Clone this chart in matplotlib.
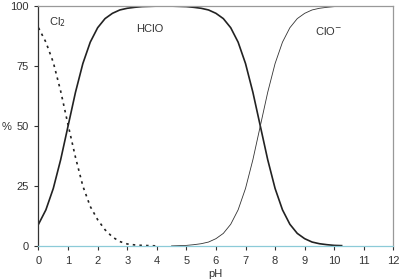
import matplotlib
matplotlib.use('Agg')
import matplotlib.pyplot as plt

plt.rcParams['font.family'] = ['Liberation Sans', 'DejaVu Sans']

# pH grid for HClO (0 .. 10.25 in 0.25 steps)
ph_hclo = [0, 0.25, 0.5, 0.75, 1, 1.25, 1.5, 1.75, 2, 2.25, 2.5, 2.75, 3, 3.25, 3.5, 3.75,
           4, 4.25, 4.5, 4.75, 5, 5.25, 5.5, 5.75, 6, 6.25, 6.5, 6.75, 7, 7.25, 7.5, 7.75,
           8, 8.25, 8.5, 8.75, 9, 9.25, 9.5, 9.75, 10, 10.25]
hclo = [9.1, 15.1, 24.0, 36.0, 50.0, 64.0, 76.0, 84.9, 90.9, 94.7, 96.9, 98.3, 99.0, 99.4, 99.7, 99.8,
        99.9, 99.9, 99.9, 99.8, 99.7, 99.4, 99.0, 98.3, 96.9, 94.7, 90.9, 84.9, 76.0, 64.0, 50.0, 36.0,
        24.0, 15.1, 9.1, 5.3, 3.1, 1.7, 1.0, 0.6, 0.3, 0.2]

ph_cl2 = [0, 0.25, 0.5, 0.75, 1, 1.25, 1.5, 1.75, 2, 2.25, 2.5, 2.75, 3, 3.25, 3.5, 3.75, 4]
cl2 = [90.9, 84.9, 76.5, 64.5, 50.5, 37.0, 25.0, 16.5, 11.0, 6.8, 3.8, 1.9, 0.9, 0.5, 0.3, 0.2, 0.1]

ph_clo = [4.5, 4.75, 5, 5.25, 5.5, 5.75, 6, 6.25, 6.5, 6.75, 7, 7.25, 7.5, 7.75,
          8, 8.25, 8.5, 8.75, 9, 9.25, 9.5, 9.75, 10, 10.25]
clo = [0.1, 0.2, 0.3, 0.6, 1.0, 1.7, 3.1, 5.3, 9.1, 15.1, 24.0, 36.0, 50.0, 64.0,
       76.0, 84.9, 90.9, 94.7, 96.9, 98.3, 99.0, 99.4, 99.7, 99.8]

fig = plt.figure(figsize=(4.01, 2.80), dpi=100)
ax = fig.add_axes([0.096, 0.121, 0.885, 0.858])

ax.plot(ph_cl2, cl2, color='#222222', lw=1.2, linestyle=(0, (1.5, 2.5)))
ax.plot(ph_hclo, hclo, color='#222222', lw=1.2)
ax.plot(ph_clo, clo, color='#333333', lw=0.6)

ax.set_xlim(0, 12)
ax.set_ylim(0, 100)
ax.set_xticks(range(0, 13))
ax.set_yticks([0, 25, 50, 75, 100])

ax.spines['left'].set_color('#333333')
ax.spines['top'].set_color('#999999')
ax.spines['right'].set_color('#999999')
ax.spines['bottom'].set_color('#8ccbd8')
for s in ax.spines.values():
    s.set_linewidth(0.9)

ax.tick_params(axis='both', direction='out', length=3, width=0.8, color='#333333',
               labelsize=8, labelcolor='#333333', pad=4)

# axis titles placed by hand so they stay inside the small canvas
fig.text(0.005, 0.545, '%', fontsize=8, color='#333333', ha='left', va='center')
fig.text(0.536, 0.005, 'pH', fontsize=8, color='#333333', ha='center', va='bottom')

ax.text(0.35, 92, r'Cl$_2$', fontsize=8, color='#333333')
ax.text(3.3, 89, 'HClO', fontsize=8, color='#333333')
ax.text(9.35, 88, r'ClO$^{-}$', fontsize=8, color='#333333')

fig.savefig('out.png', dpi=100)
